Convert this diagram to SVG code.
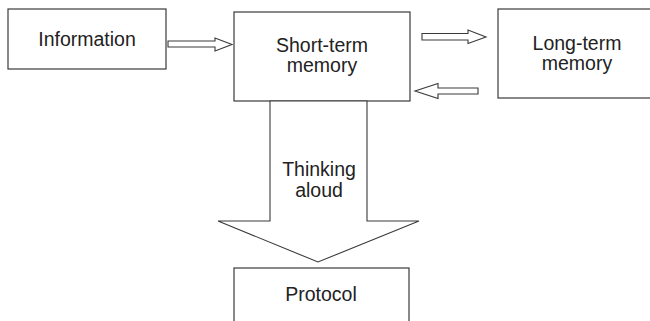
<svg xmlns="http://www.w3.org/2000/svg" width="650" height="321" viewBox="0 0 650 321">
  <style>
    .box { fill: #ffffff; stroke: #3a3a3a; stroke-width: 1.2; }
    .arrow { fill: #ffffff; stroke: #3a3a3a; stroke-width: 1.1; stroke-linejoin: miter; }
    .label { font-family: "Liberation Sans", Arial, sans-serif; font-size: 19.5px; fill: #222222; text-anchor: middle; }
  </style>
  <rect width="650" height="321" fill="#ffffff"/>

  <!-- nodes -->
  <g id="information">
    <rect class="box" x="8" y="9" width="158" height="60"/>
    <text class="label" x="87" y="46">Information</text>
  </g>

  <g id="short-term-memory">
    <rect class="box" x="234" y="12" width="176" height="89"/>
    <text class="label" x="322" y="52">Short-term</text>
    <text class="label" x="322" y="72">memory</text>
  </g>

  <g id="long-term-memory">
    <rect class="box" x="498" y="9" width="160" height="89"/>
    <text class="label" x="577" y="50">Long-term</text>
    <text class="label" x="577" y="70">memory</text>
  </g>

  <g id="protocol">
    <rect class="box" x="234" y="268" width="175" height="70"/>
    <text class="label" x="321" y="301">Protocol</text>
  </g>

  <!-- connectors: hollow block arrows -->
  <g id="connectors">
    <polygon class="arrow" points="168,41 215,41 215,38 232,44.5 215,51 215,47 168,47"/>
    <polygon class="arrow" points="422,33.5 468,33.5 468,30 486,37 468,43.5 468,40 422,40"/>
    <polygon class="arrow" points="478,88 438,88 438,83.5 415,91 438,98.5 438,94 478,94"/>
    <g id="thinking-aloud">
      <polygon class="arrow" points="270,101 367,101 367,221 419,221 318,262 218,221 270,221"/>
      <text class="label" x="319" y="176">Thinking</text>
      <text class="label" x="319" y="197">aloud</text>
    </g>
  </g>
</svg>
